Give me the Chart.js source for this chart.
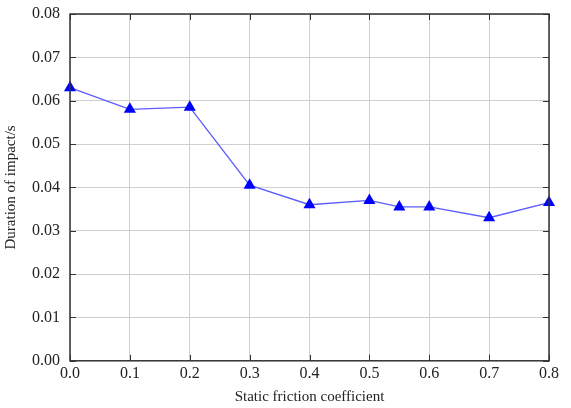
<!DOCTYPE html>
<html>
<head>
<meta charset="utf-8">
<script src="https://cdn.jsdelivr.net/npm/chart.js@4.4.0/dist/chart.umd.min.js"></script>
<style>
  html, body { margin: 0; padding: 0; background: #fff; }
  #wrap { width: 571px; height: 408px; }
</style>
</head>
<body>
<div id="wrap"><canvas id="c"></canvas></div>
<script>
const frictionCoef = [0.0, 0.1, 0.2, 0.3, 0.4, 0.5, 0.55, 0.6, 0.7, 0.8];
const impactDuration = [0.063, 0.058, 0.0585, 0.0405, 0.036, 0.037, 0.0355, 0.0355, 0.033, 0.0365];
const xTicks = [0, 0.1, 0.2, 0.3, 0.4, 0.5, 0.6, 0.7, 0.8];
const yTicks = [0, 0.01, 0.02, 0.03, 0.04, 0.05, 0.06, 0.07, 0.08];

// short tick marks pointing into the plot, on all four sides
const innerTicks = {
  id: 'innerTicks',
  afterDatasetsDraw(chart) {
    const { ctx, chartArea: a, scales: { x, y } } = chart;
    ctx.save();
    ctx.strokeStyle = '#333';
    ctx.lineWidth = 1;
    ctx.beginPath();
    xTicks.forEach(v => {
      const px = Math.round(x.getPixelForValue(v)) + 0.5;
      ctx.moveTo(px, a.bottom); ctx.lineTo(px, a.bottom - 6);
      ctx.moveTo(px, a.top); ctx.lineTo(px, a.top + 6);
    });
    yTicks.forEach(v => {
      const py = Math.round(y.getPixelForValue(v)) + 0.5;
      ctx.moveTo(a.left, py); ctx.lineTo(a.left + 6, py);
      ctx.moveTo(a.right, py); ctx.lineTo(a.right - 6, py);
    });
    ctx.stroke();
    ctx.lineWidth = 1.5;
    ctx.strokeRect(a.left, a.top, a.right - a.left, a.bottom - a.top);
    ctx.restore();
  }
};

new Chart(document.getElementById('c'), {
  type: 'line',
  data: {
    datasets: [{
      data: frictionCoef.map((x, i) => ({ x, y: impactDuration[i] })),
      borderColor: '#5b5bff',
      borderWidth: 1.3,
      backgroundColor: '#0000ff',
      pointStyle: 'triangle',
      pointRadius: 7,
      pointBorderWidth: 0,
      pointBackgroundColor: '#0000ff',
      tension: 0,
      clip: false
    }]
  },
  options: {
    responsive: true,
    maintainAspectRatio: false,
    animation: false,
    layout: { padding: { top: 0, right: 22, left: 2, bottom: 2 } },
    plugins: { legend: { display: false }, tooltip: { enabled: false } },
    scales: {
      x: {
        type: 'linear',
        min: 0, max: 0.8,
        afterBuildTicks: s => { s.ticks = xTicks.map(v => ({ value: v })); },
        grid: { color: '#cfcfcf', drawTicks: false },
        border: { display: false },
        ticks: {
          color: '#222', padding: 3,
          font: { family: 'Liberation Serif', size: 16 },
          callback: v => v.toFixed(1),
          maxRotation: 0
        },
        title: {
          display: true, text: 'Static friction coefficient', color: '#222',
          font: { family: 'Liberation Serif', size: 15 }, padding: { top: 2, bottom: 0 }
        }
      },
      y: {
        min: 0, max: 0.08,
        afterBuildTicks: s => { s.ticks = yTicks.map(v => ({ value: v })); },
        afterFit: s => { s.paddingTop = 14; },
        grid: { color: '#cfcfcf', drawTicks: false },
        border: { display: false },
        ticks: {
          color: '#222', padding: 10,
          font: { family: 'Liberation Serif', size: 16 },
          callback: v => v.toFixed(2)
        },
        title: {
          display: true, text: 'Duration of impact/s', color: '#222',
          font: { family: 'Liberation Serif', size: 15 }, padding: { top: 0, bottom: 2 }
        }
      }
    }
  },
  plugins: [innerTicks]
});
</script>
</body>
</html>
